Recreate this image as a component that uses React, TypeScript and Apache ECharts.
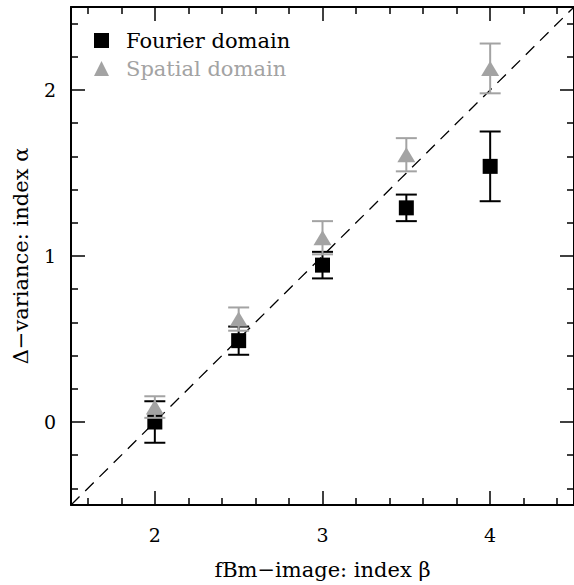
import React, { useEffect, useRef } from "react";
import * as echarts from "echarts";

// fBm-image spectral index beta
const betaValues = [2, 2.5, 3, 3.5, 4];
// Delta-variance index alpha, Fourier domain
const fourierAlpha = [0.0, 0.49, 0.945, 1.29, 1.54];
const fourierErr = [0.125, 0.085, 0.08, 0.08, 0.21];
// Delta-variance index alpha, spatial domain
const spatialAlpha = [0.09, 0.62, 1.11, 1.61, 2.13];
const spatialErr = [0.065, 0.07, 0.1, 0.1, 0.15];

// expected relation alpha = beta - 2
const relationBeta = [1.5, 4.5];
const relationOffset = 2;

const xRange = [1.5, 4.5];
const yRange = [-0.5, 2.5];
const xMajorTicks = [2, 3, 4];
const xMinorTicks = [1.6, 1.8, 2.2, 2.4, 2.6, 2.8, 3.2, 3.4, 3.6, 3.8, 4.2, 4.4];
const yMajorTicks = [0, 1, 2];
const yMinorTicks = [-0.4, -0.2, 0.2, 0.4, 0.6, 0.8, 1.2, 1.4, 1.6, 1.8, 2.2, 2.4];

const seriesNames = ["Fourier domain", "Spatial domain"];

const BLACK = "#000000";
const GRAY = "#a3a3a3";
const FONT = "DejaVu Serif";

function errorSeries(name: string, vals: number[], errs: number[], color: string, z: number) {
  const data = betaValues.map((b, i) => [b, vals[i] - errs[i], vals[i] + errs[i]]);
  return {
    type: "custom",
    name,
    xAxisIndex: 0,
    yAxisIndex: 0,
    z,
    silent: true,
    data,
    renderItem: (params: any, api: any) => {
      const lo = api.coord([api.value(0), api.value(1)]);
      const hi = api.coord([api.value(0), api.value(2)]);
      const hw = 10.5;
      const style = { stroke: color, lineWidth: 2 };
      return {
        type: "group",
        children: [
          { type: "line", shape: { x1: lo[0], y1: lo[1], x2: hi[0], y2: hi[1] }, style },
          { type: "line", shape: { x1: lo[0] - hw, y1: lo[1], x2: lo[0] + hw, y2: lo[1] }, style },
          { type: "line", shape: { x1: hi[0] - hw, y1: hi[1], x2: hi[0] + hw, y2: hi[1] }, style },
        ],
      };
    },
  };
}

function makeAxis(
  dim: "x" | "y",
  position: string,
  ticks: number[],
  len: number,
  labels: boolean,
  showLine: boolean
) {
  const range = dim === "x" ? xRange : yRange;
  return {
    type: "value",
    position,
    min: range[0],
    max: range[1],
    splitLine: { show: false },
    axisLine: { show: showLine, onZero: false, lineStyle: { color: BLACK, width: 2 } },
    axisTick: {
      show: true,
      inside: true,
      length: len,
      customValues: ticks,
      lineStyle: { color: BLACK, width: 1.5 },
    },
    axisLabel: labels
      ? {
          show: true,
          customValues: ticks,
          color: BLACK,
          fontFamily: FONT,
          fontSize: 19,
          margin: dim === "x" ? 20 : 15,
        }
      : { show: false },
  };
}

export default function App() {
  const ref = useRef<HTMLDivElement>(null);

  useEffect(() => {
    if (!ref.current) return;
    const chart = echarts.init(ref.current, null, { renderer: "svg" });

    const xAxes: any[] = [
      {
        ...makeAxis("x", "bottom", xMajorTicks, 14, true, true),
        name: "fBm\u2212image: index \u03b2",
        nameLocation: "middle",
        nameGap: 54,
        nameTextStyle: { color: BLACK, fontFamily: FONT, fontSize: 21 },
      },
      makeAxis("x", "bottom", xMinorTicks, 7, false, false),
      makeAxis("x", "top", xMajorTicks, 14, false, true),
      makeAxis("x", "top", xMinorTicks, 7, false, false),
    ];
    const yAxes: any[] = [
      {
        ...makeAxis("y", "left", yMajorTicks, 14, true, true),
        name: "\u0394\u2212variance: index \u03b1",
        nameLocation: "middle",
        nameGap: 40,
        nameTextStyle: { color: BLACK, fontFamily: FONT, fontSize: 21 },
      },
      makeAxis("y", "left", yMinorTicks, 7, false, false),
      makeAxis("y", "right", yMajorTicks, 14, false, true),
      makeAxis("y", "right", yMinorTicks, 7, false, false),
    ];

    const legendText = { fontFamily: FONT, fontSize: 21, lineHeight: 18, padding: [0, 0, 0, 12] };

    const option: any = {
      animation: false,
      backgroundColor: "#ffffff",
      grid: { left: 71, right: 0, top: 7, bottom: 74, containLabel: false },
      xAxis: xAxes,
      yAxis: yAxes,
      legend: {
        orient: "vertical",
        left: 89,
        top: 25,
        itemWidth: 15,
        itemHeight: 15,
        itemGap: 7,
        selectedMode: false,
        textStyle: legendText,
        data: [
          { name: seriesNames[0], icon: "rect", textStyle: { ...legendText, color: BLACK } },
          { name: seriesNames[1], icon: "triangle", textStyle: { ...legendText, color: GRAY } },
        ],
      },
      series: [
        {
          type: "line",
          name: "relation",
          xAxisIndex: 0,
          yAxisIndex: 0,
          data: relationBeta.map((b) => [b, b - relationOffset]),
          symbol: "none",
          silent: true,
          lineStyle: { color: BLACK, width: 1.3, type: [12, 8] },
          z: 1,
        },
        errorSeries("Fourier errors", fourierAlpha, fourierErr, BLACK, 2),
        {
          type: "scatter",
          name: seriesNames[0],
          xAxisIndex: 0,
          yAxisIndex: 0,
          symbol: "rect",
          symbolSize: 15,
          itemStyle: { color: BLACK, opacity: 1 },
          data: betaValues.map((b, i) => [b, fourierAlpha[i]]),
          z: 3,
        },
        errorSeries("Spatial errors", spatialAlpha, spatialErr, GRAY, 4),
        {
          type: "scatter",
          name: seriesNames[1],
          xAxisIndex: 0,
          yAxisIndex: 0,
          symbol: "triangle",
          symbolSize: [18, 15],
          itemStyle: { color: GRAY, opacity: 1 },
          data: betaValues.map((b, i) => [b, spatialAlpha[i]]),
          z: 5,
        },
      ],
    };
    chart.setOption(option);
    return () => chart.dispose();
  }, []);

  return (
    <div
      ref={ref}
      style={{ position: "fixed", left: 0, top: 0, width: 574, height: 585, background: "#fff" }}
    />
  );
}
